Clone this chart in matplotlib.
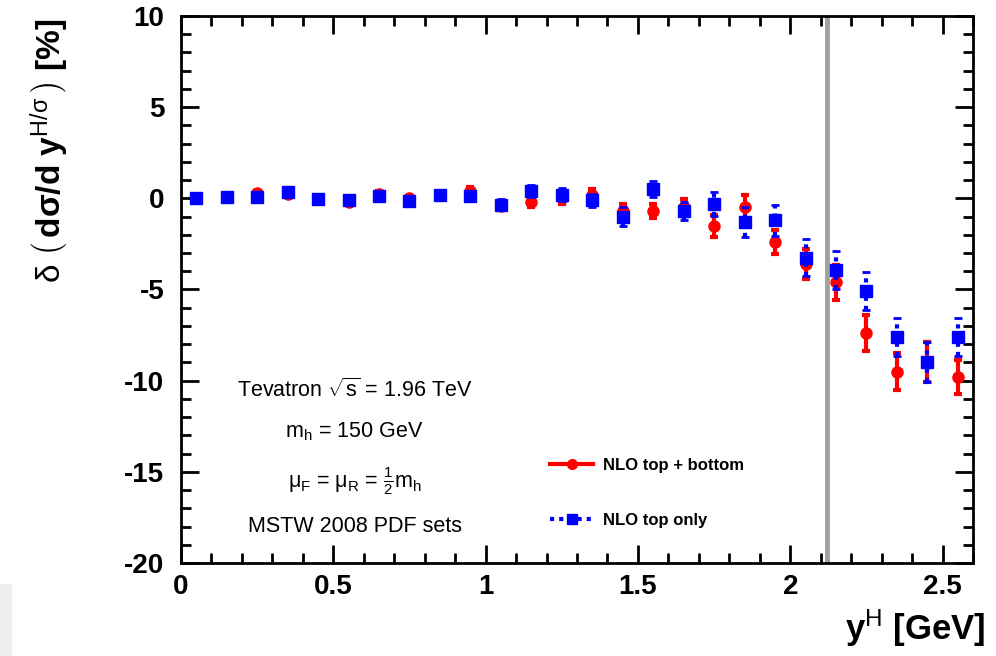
import matplotlib
matplotlib.use("Agg")
import matplotlib.pyplot as plt
from matplotlib.patches import Rectangle
from matplotlib.ticker import MultipleLocator
from matplotlib.lines import Line2D

plt.rcParams['font.family'] = ['Liberation Sans', 'DejaVu Sans']
plt.rcParams['mathtext.fontset'] = 'custom'
plt.rcParams['mathtext.rm'] = 'Liberation Sans'
plt.rcParams['mathtext.it'] = 'Liberation Sans'
plt.rcParams['mathtext.bf'] = 'Liberation Sans:bold'

# ---- data ----
y_bins = [0.05, 0.15, 0.25, 0.35, 0.45, 0.55, 0.65, 0.75, 0.85, 0.95,
          1.05, 1.15, 1.25, 1.35, 1.45, 1.55, 1.65, 1.75, 1.85, 1.95,
          2.05, 2.15, 2.25, 2.35, 2.45, 2.55]
top_bottom = [0.0, 0.05, 0.3, 0.25, -0.05, -0.2, 0.25, 0.0, 0.2, 0.4,
              -0.4, -0.2, 0.0, 0.2, -0.7, -0.7, -0.5, -1.5, -0.5, -2.4,
              -3.6, -4.6, -7.4, -9.5, -9.0, -9.8]
top_bottom_err = [0.1, 0.1, 0.1, 0.1, 0.15, 0.15, 0.15, 0.15, 0.15, 0.2,
                  0.25, 0.3, 0.3, 0.3, 0.4, 0.4, 0.45, 0.6, 0.7, 0.65,
                  0.8, 0.95, 1.0, 1.0, 1.1, 0.95]
top_only = [0.0, 0.05, 0.1, 0.35, -0.05, -0.1, 0.15, -0.15, 0.2, 0.15,
            -0.35, 0.4, 0.2, -0.1, -1.0, 0.5, -0.7, -0.3, -1.3, -1.2,
            -3.25, -3.95, -5.1, -7.6, -9.0, -7.6]
top_only_err = [0.1, 0.1, 0.1, 0.15, 0.15, 0.15, 0.15, 0.15, 0.15, 0.2,
                0.3, 0.35, 0.35, 0.35, 0.5, 0.45, 0.5, 0.65, 0.8, 0.85,
                1.0, 1.05, 1.05, 1.05, 1.1, 1.05]
cut_position = 2.12

series_labels = ["NLO top + bottom", "NLO top only"]
annotations = [r"Tevatron $\sqrt{s}$ = 1.96 TeV",
               r"m$_{\mathrm{h}}$ = 150 GeV",
               r"$\mu_{\mathrm{F}}$ = $\mu_{\mathrm{R}}$ = $\frac{1}{2}$m$_{\mathrm{h}}$",
               "MSTW 2008 PDF sets"]

fig = plt.figure(figsize=(9.96, 6.56), dpi=100)
fig.patches.append(Rectangle((0, 0), 0.012, 0.11, transform=fig.transFigure,
                             facecolor='#eeeeee', edgecolor='none', zorder=-1))
ax = fig.add_axes([0.1817, 0.1418, 0.7953, 0.8338])

ax.axvline(cut_position, color='#a0a0a0', lw=3.5, zorder=1)

eb_r = ax.errorbar(y_bins, top_bottom, yerr=top_bottom_err, fmt='o', color='#ff0000',
                   ms=8, elinewidth=3, capsize=3, capthick=3, zorder=3)
eb_b = ax.errorbar(y_bins, top_only, yerr=top_only_err, fmt='s', color='#0000ff',
                   ms=8, elinewidth=3, capsize=3, capthick=2, zorder=4)
for lc in eb_b[2]:
    lc.set_linestyle((0, (1, 1.2)))

ax.set_xlim(0, 2.6)
ax.set_ylim(-20, 10)
ax.xaxis.set_major_locator(MultipleLocator(0.5))
ax.xaxis.set_minor_locator(MultipleLocator(0.1))
ax.yaxis.set_major_locator(MultipleLocator(5))
ax.yaxis.set_minor_locator(MultipleLocator(1))
ax.xaxis.set_major_formatter(plt.FuncFormatter(lambda v, p: f"{v:g}"))
ax.yaxis.set_major_formatter(plt.FuncFormatter(lambda v, p: f"{v:g}"))
ax.tick_params(which='both', direction='in', top=True, right=True, width=2,
               labelsize=20)
ax.tick_params(which='major', length=13)
ax.tick_params(which='minor', length=7)
ax.tick_params(axis='y', pad=12)
ax.tick_params(axis='x', pad=8)
for lab in ax.get_xticklabels() + ax.get_yticklabels():
    lab.set_fontweight('bold')
for s in ax.spines.values():
    s.set_linewidth(2)

fig.text(0.99, 0.01, r"y$^{\mathrm{H}}$ [GeV]", ha='right', va='bottom',
         fontsize=25, fontweight='bold')
fig.text(0.05, 0.77,
         r"$\delta\ \left(\,\mathbf{d}\mathbf{\sigma}\mathbf{/d\ y}^{\mathrm{H}/\sigma}\,\right)$ [%]",
         rotation=90, ha='center', va='center', fontsize=24, fontweight='bold')

ys = [-10.5, -12.8, -15.5, -18.0]
for t, yv in zip(annotations, ys):
    ax.text(0.57, yv, t, ha='center', va='center', fontsize=15.5)

handles = [Line2D([], [], color='#ff0000', marker='o', ms=7, lw=3),
           Line2D([], [], color='#0000ff', marker='s', ms=7, lw=3,
                  linestyle=(0, (1, 1.2)))]
ax.legend(handles, series_labels, loc='upper left', bbox_to_anchor=(0.447, 0.22),
          frameon=False, handlelength=2.6, labelspacing=2.4,
          handletextpad=0.6, prop={'weight': 'bold', 'size': 12})

fig.savefig("out.png", dpi=100)
